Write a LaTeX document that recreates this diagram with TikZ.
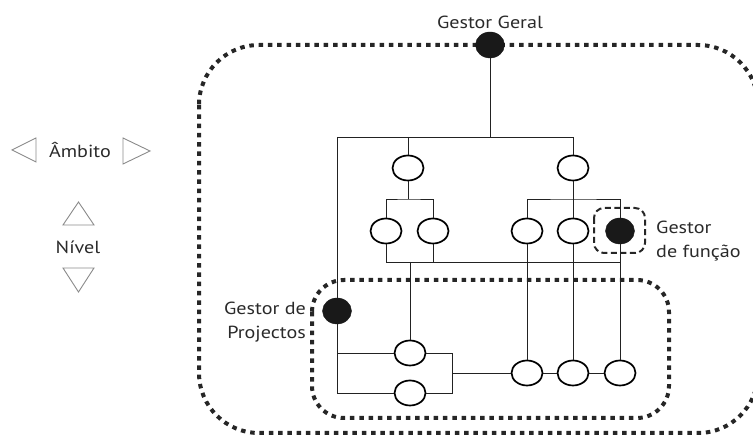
\documentclass[tikz,border=0pt]{standalone}
\usepackage{fontspec}
\setmainfont{PT Sans}[FakeStretch=1.15]
\usetikzlibrary{shapes.geometric}
\definecolor{ink}{HTML}{222222}
\definecolor{txt}{HTML}{2A2A2A}
\definecolor{legendgray}{HTML}{8A8A8A}
\begin{document}
\begin{tikzpicture}[x=1pt,y=-1pt,
  unit/.style={draw=black, line width=1.7pt, ellipse, minimum width=31pt, minimum height=25pt, inner sep=0pt},
  boss/.style={fill=black!90, draw=black!90, ellipse, minimum width=29pt, minimum height=26pt, inner sep=0pt},
  wire/.style={draw=ink, line width=0.9pt},
  dots/.style={draw=black!85, line width=4pt, dash pattern=on 4.5pt off 4.8pt},
  dashbox/.style={draw=black!85, line width=2pt, dash pattern=on 6pt off 3.5pt},
  lbl/.style={text=txt, font=\fontsize{17.5}{24}\selectfont, inner sep=0pt},
  tri/.style={draw=legendgray, line width=0.9pt, line join=miter}
]
\useasboundingbox (0,0) rectangle (753,435);

% scope boundaries
\draw[dots, rounded corners=60pt] (199,45) rectangle (758,433);
\draw[dots, rounded corners=32pt] (312,280) rectangle (669,418);
\draw[dashbox, rounded corners=10pt] (594,208) rectangle (645,253);

% units
\node[boss] (gg) at (490,45) {};
\node[unit] (a) at (408,168) {};
\node[unit] (b) at (573,168) {};
\node[unit] (c1) at (386,231) {};
\node[unit] (c2) at (433,231) {};
\node[unit] (d1) at (527,231) {};
\node[unit] (d2) at (573,231) {};
\node[boss] (d3) at (620,231) {};
\node[boss] (gp) at (337,311) {};
\node[unit] (e1) at (410,353) {};
\node[unit] (e2) at (410,393) {};
\node[unit] (f1) at (527,373) {};
\node[unit] (f2) at (573,373) {};
\node[unit] (f3) at (620,373) {};

% junction points
\coordinate (busL) at (337,137);
\coordinate (busR) at (573,137);
\coordinate (sa) at (408,199);
\coordinate (sb) at (573,199);
\coordinate (bbL) at (386,262);
\coordinate (ej) at (452,373);

% top level
\draw[wire] (gg) -- (gg |- busL);
\draw[wire] (busL) -- (busR) -- (b);
\draw[wire] (a |- busL) -- (a);
% functional branches
\draw[wire] (a) -- (sa);
\draw[wire] (c1) |- (sa) -| (c2);
\draw[wire] (b) -- (d2);
\draw[wire] (d1) |- (sb) -| (d3);
% bottom bus
\draw[wire] (c1) -- (bbL) -- (d3 |- bbL);
\draw[wire] (c2) -- (c2 |- bbL);
\draw[wire] (e1 |- bbL) -- (e1);
\draw[wire] (d1) -- (f1);
\draw[wire] (d2) -- (f2);
\draw[wire] (d3) -- (f3);
% project manager line
\draw[wire] (busL) -- (gp);
\draw[wire] (gp) -- (gp |- e2) -- (e2);
\draw[wire] (gp |- e1) -- (e1);
\draw[wire] (e1) -| (ej);
\draw[wire] (e2) -| (ej);
\draw[wire] (ej) -- (f1);
\draw[wire] (f1) -- (f2);
\draw[wire] (f2) -- (f3);

% labels
\node[lbl] (tgg) at (490,22) {Gestor Geral};
\node[lbl, anchor=east, align=right] (tgp) at (306,322) {Gestor de\\Projectos};
\node[lbl, anchor=west, align=left] (tgf) at (656,241) {Gestor\\de função};

% legend
\node[lbl] (amb) at (80,150) {Âmbito};
\draw[tri] (36,138) -- (12,150) -- (36,162) -- cycle;
\draw[tri] (123,138) -- (150,151) -- (123,164) -- cycle;
\draw[tri] (63,225) -- (78.5,202) -- (94,225) -- cycle;
\node[lbl] (niv) at (78,247) {Nível};
\draw[tri] (63,268) -- (94,268) -- (78.5,292) -- cycle;
\end{tikzpicture}
\end{document}
